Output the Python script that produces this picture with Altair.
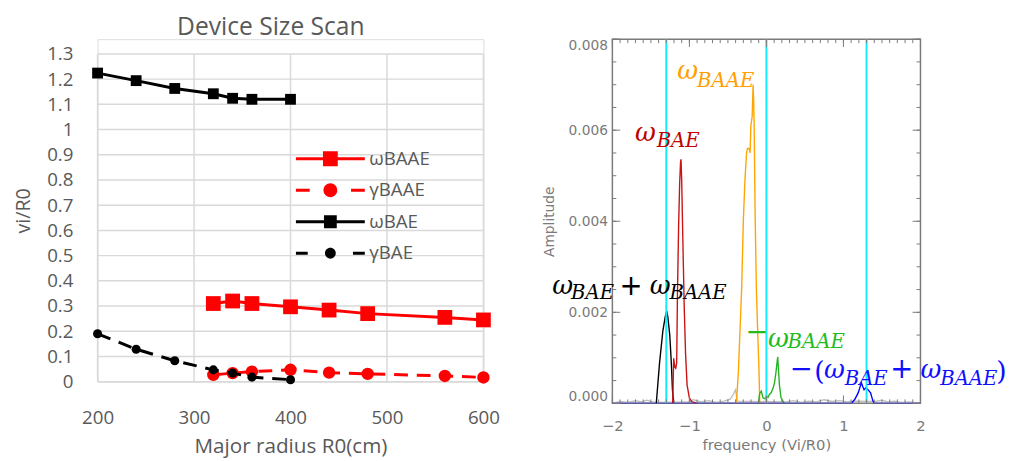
import altair as alt
import pandas as pd

# ================= left panel data (Device Size Scan) =================
series_names = ["ωBAAE", "γBAAE", "ωBAE", "γBAE"]
series_colors = ["#ff0000", "#ff0000", "#000000", "#000000"]
r0_baae = [320, 340, 360, 400, 440, 480, 560, 600]
omega_baae = [0.31, 0.32, 0.31, 0.297, 0.284, 0.27, 0.255, 0.245]
gamma_baae = [0.027, 0.034, 0.04, 0.047, 0.036, 0.031, 0.023, 0.017]
r0_bae = [200, 240, 280, 320, 340, 360, 400]
omega_bae = [1.224, 1.194, 1.163, 1.142, 1.124, 1.12, 1.12]
gamma_bae = [0.19, 0.129, 0.083, 0.047, 0.034, 0.018, 0.008]
left_x_ticks = [200, 300, 400, 500, 600]
left_y_ticks = [0.0, 0.1, 0.2, 0.3, 0.4, 0.5, 0.6, 0.7, 0.8, 0.9, 1.0, 1.1, 1.2, 1.3]

# ================= right panel data (spectrum) =================
gray_f = [-2.0, -1.9, -1.8, -1.7, -1.62, -1.55, -1.5, -1.45, -1.0, -0.95, -0.85, -0.75, -0.65,
          -0.55, -0.47, -0.43, -0.40, -0.38, 0.25, 0.35, 0.45, 0.55, 0.65, 0.75, 0.85, 0.95,
          1.05, 1.1, 1.42, 1.5, 1.58, 1.66, 1.75, 1.85, 2.0]
gray_a = [0.0, 0.00004, 0.00002, 0.00006, 0.00003, 0.00007, 0.00004, 0.00002, 0.00003, 0.00008,
          0.00003, 0.00006, 0.00002, 0.00005, 0.00009, 0.0002, 0.0003, 0.00005, 0.00003, 0.00006,
          0.00002, 0.00005, 0.00003, 0.00008, 0.00004, 0.00006, 0.00003, 0.00005, 0.00004,
          0.00007, 0.00003, 0.00005, 0.00002, 0.00003, 0.0]
black_f = [-1.43, -1.387, -1.344, -1.314, -1.295, -1.28, -1.255, -1.235, -1.22, -1.205]
black_a = [0.0, 0.0009, 0.0016, 0.0019, 0.00203, 0.0019, 0.0015, 0.0009, 0.0003, 0.0]
red_f = [-1.217, -1.204, -1.19, -1.178, -1.165, -1.155, -1.14, -1.127, -1.115, -1.109, -1.1,
         -1.09, -1.078, -1.067, -1.05, -1.03, -1.0, -0.97, -0.9]
red_a = [0.0, 0.00099, 0.0008, 0.00077, 0.00089, 0.0024, 0.0039, 0.0048, 0.0053, 0.00536, 0.0049,
         0.004, 0.003, 0.0021, 0.0011, 0.0004, 0.00012, 0.00004, 0.0]
orange_f = [-0.40, -0.386, -0.364, -0.343, -0.322, -0.300, -0.279, -0.258, -0.245, -0.225, -0.212,
            -0.202, -0.185, -0.173, -0.165, -0.160, -0.147, -0.130, -0.112, -0.096, -0.087]
orange_a = [0.0, 0.0001, 0.0007, 0.0016, 0.0025, 0.004, 0.0049, 0.0055, 0.0056, 0.0056, 0.0055,
            0.0061, 0.0063, 0.0070, 0.0066, 0.0062, 0.0042, 0.0025, 0.0015, 0.0007, 0.0]
green_f = [-0.105, -0.087, -0.066, -0.045, -0.02, 0.0, 0.02, 0.041, 0.061, 0.085, 0.105, 0.125,
           0.138, 0.147, 0.158, 0.169, 0.19, 0.232]
green_a = [0.0, 0.00022, 0.00027, 0.00012, 0.0001, 0.00016, 0.00013, 0.0002, 0.00023, 0.00033,
           0.00045, 0.0007, 0.0009, 0.00102, 0.0007, 0.0004, 0.00012, 0.0]
blue_f = [-2.0, 1.105, 1.148, 1.191, 1.212, 1.233, 1.25, 1.268, 1.289, 1.319, 1.352, 1.383, 1.40, 2.0]
blue_a = [0.0, 0.0, 0.00009, 0.00023, 0.00034, 0.00045, 0.00037, 0.0003, 0.00034, 0.0003,
          0.00023, 0.00005, 0.0, 0.0]
cyan_f = [-1.3, 0.0, 1.3]
right_x_ticks = [-2, -1, 0, 1, 2]
right_y_ticks = [0.0, 0.002, 0.004, 0.006, 0.008]

# annotation labels (math-like text)
om_f = [-1.157, -1.706, -2.780, -1.514, 0.019, 0.748, 2.0]
om_a = [0.00713, 0.00577, 0.0024, 0.0024, 0.00123, 0.00056, 0.00056]
om_color = ["#ffa000", "#c00000", "#000000", "#000000", "#22bb22", "#1010ff", "#1010ff"]
sub_text = ["BAAE", "BAE", "BAE", "BAAE", "BAAE", "BAE", "BAAE"]
sub_f = [-0.901, -1.425, -2.537, -1.259, 0.275, 1.016, 2.256]
sub_a = [0.00694, 0.00564, 0.00229, 0.00229, 0.00121, 0.0004, 0.0004]
op_text = ["+", "−", "−", "+"]
op_f = [-1.757, -0.121, 0.454, 1.757]
op_a = [0.00255, 0.00154, 0.000735, 0.000735]
op_color = ["#000000", "#22bb22", "#1010ff", "#1010ff"]
par_text = ["(", ")"]
par_f = [0.62, 2.984]
par_a = [0.00052, 0.00052]

# ================= left chart =================
GRAY = "#595959"
GRID = "#d9d9d9"
FONT_L = "Open Sans"
LW, LH = 392, 348
rows = []
for xs, vs, nm in [(r0_baae, omega_baae, "ωBAAE"), (r0_baae, gamma_baae, "γBAAE"),
                   (r0_bae, omega_bae, "ωBAE"), (r0_bae, gamma_bae, "γBAE")]:
    for x, v in zip(xs, vs):
        rows.append({"series": nm, "R0": x, "v": v})
df_left = pd.DataFrame(rows)

sc_xl = alt.Scale(domain=[left_x_ticks[0], left_x_ticks[-1]], nice=False, zero=False)
# plot area reaches a little above the top gridline (1.3) so both panels share one origin
sc_yl = alt.Scale(domain=[0, left_y_ticks[-1] * LH / 333], nice=False, zero=False)
ax_xl = alt.Axis(values=left_x_ticks, format="d", title="Major radius R0(cm)",
                 grid=False, ticks=False, domain=False, labelFlush=False,
                 labelFontSize=19, labelColor=GRAY, labelFont=FONT_L, labelPadding=27,
                 titleFontSize=21, titleColor=GRAY, titleFont=FONT_L,
                 titleFontWeight="normal", titlePadding=9)
ax_yl = alt.Axis(values=left_y_ticks, format="~g", title="vi/R0",
                 grid=False, ticks=False, domain=False, labelFlush=False,
                 labelFontSize=19, labelColor=GRAY, labelFont=FONT_L, labelPadding=25,
                 titleFontSize=20, titleColor=GRAY, titleFont=FONT_L,
                 titleFontWeight="normal", titlePadding=13)


def XL(field):
    return alt.X(f"{field}:Q", scale=sc_xl, axis=ax_xl)


def YL(field):
    return alt.Y(f"{field}:Q", scale=sc_yl, axis=ax_yl)


left_layers = []
# gridlines
df_gx = pd.DataFrame({"R0": left_x_ticks, "v": [left_y_ticks[0]] * len(left_x_ticks),
                      "v2": [left_y_ticks[-1]] * len(left_x_ticks)})
df_gy = pd.DataFrame({"v": left_y_ticks, "R0": [left_x_ticks[0]] * len(left_y_ticks),
                      "R02": [left_x_ticks[-1]] * len(left_y_ticks)})
left_layers.append(alt.Chart(df_gy).mark_rule(color=GRID, strokeWidth=1.5).encode(
    y=YL("v"), x=XL("R0"), x2="R02:Q"))
left_layers.append(alt.Chart(df_gx).mark_rule(color=GRID, strokeWidth=1.5).encode(
    x=XL("R0"), y=YL("v"), y2="v2:Q"))

base = alt.Chart(df_left)
marker_spec = {"ωBAAE": ("square", 225), "γBAAE": ("circle", 160),
               "ωBAE": ("square", 121), "γBAE": ("circle", 85)}
for nm, col in zip(series_names, series_colors):
    d = base.transform_filter(alt.datum.series == nm)
    if nm.startswith("γ"):
        ln = d.mark_line(strokeWidth=3, strokeDash=[14, 9], color=col)
    else:
        ln = d.mark_line(strokeWidth=3, color=col)
    left_layers.append(ln.encode(x=XL("R0"), y=YL("v")))
    shp, sz = marker_spec[nm]
    if shp == "square":
        mk = d.mark_square(size=sz, opacity=1, color=col)
    else:
        mk = d.mark_circle(size=sz, opacity=1, color=col)
    left_layers.append(mk.encode(x=XL("R0"), y=YL("v")))

legend_paths = [
    "M-7,-0.3H7V0.3H-7Z M-1.5,-1.5H1.5V1.5H-1.5Z",
    "M-7,-0.3H-4.2V0.3H-7Z M4.2,-0.3H7V0.3H4.2Z M-1.4,0A1.4,1.4 0 1,1 1.4,0A1.4,1.4 0 1,1 -1.4,0Z",
    "M-7,-0.3H7V0.3H-7Z M-1.3,-1.3H1.3V1.3H-1.3Z",
    "M-7,-0.3H-4.6V0.3H-7Z M4.6,-0.3H7V0.3H4.6Z M-1.1,0A1.1,1.1 0 1,1 1.1,0A1.1,1.1 0 1,1 -1.1,0Z",
]
leg = alt.Legend(orient="none", legendX=197, legendY=112, title=None, symbolSize=100,
                 symbolStrokeWidth=0, symbolOffset=30, labelOffset=30, labelFontSize=19,
                 labelFont=FONT_L, labelColor=GRAY, rowPadding=12, padding=0, symbolOpacity=1)
legend_layer = base.mark_point(filled=True, opacity=0).encode(
    x=XL("R0"), y=YL("v"),
    color=alt.Color("series:N", scale=alt.Scale(domain=series_names, range=series_colors), legend=leg),
    shape=alt.Shape("series:N", scale=alt.Scale(domain=series_names, range=legend_paths), legend=leg),
)
left_layers.append(legend_layer)

left = alt.layer(*left_layers).properties(
    width=LW, height=LH,
    title=alt.TitleParams("Device Size Scan", fontSize=25, color=GRAY, font=FONT_L,
                          fontWeight="normal", offset=-1, dx=-20),
)

# ================= right chart =================
RG = "#7a7a7a"
FONT_R = "DejaVu Sans"
W, H = 313, 370
x_r = alt.X("f:Q", scale=alt.Scale(domain=[-2, 2], nice=False, zero=False),
            axis=alt.Axis(values=right_x_ticks, format="d", title="frequency (Vi/R0)",
                          grid=False, ticks=False, domain=False, labelFlush=False,
                          labelFontSize=15, labelColor=RG,
                          labelFont=FONT_R, labelPadding=16, titleFontSize=15, titleColor=RG,
                          titleFont=FONT_R, titleFontWeight="normal", titlePadding=4))
y_r = alt.Y("a:Q", scale=alt.Scale(domain=[0, 0.008], nice=False, zero=False),
            axis=alt.Axis(values=right_y_ticks, format=".3f", title="Amplitude",
                          grid=False, ticks=False, domain=False, labelFontSize=14, labelColor=RG,
                          labelFont=FONT_R, labelPadding=5, labelFlush=True, titleFontSize=14,
                          titleColor=RG, titleFont=FONT_R, titleFontWeight="normal",
                          titlePadding=12))


def curve(fs, as_, col):
    df = pd.DataFrame({"f": fs, "a": as_})
    return alt.Chart(df).mark_line(color=col, strokeWidth=1.4, clip=True).encode(x=x_r, y=y_r)


right_layers = [
    curve(gray_f, gray_a, "#bdbdbd"),
    curve(black_f, black_a, "#000000"),
    curve(red_f, red_a, "#c81414"),
    curve(orange_f, orange_a, "#ffa500"),
    curve(green_f, green_a, "#22b422"),
    curve(blue_f, blue_a, "#0000ff"),
]
right_layers.append(
    alt.Chart(pd.DataFrame({"f": cyan_f})).mark_rule(color="#10ecff", strokeWidth=2).encode(x=x_r)
)

# inward IDL-style ticks (major + minor) on all four sides
y_major = right_y_ticks
y_minor = [i * 0.0005 for i in range(17)]
x_major = right_x_ticks
x_minor = [round(-2 + i * 0.1, 2) for i in range(41)]
for vals, ln in [(y_major, 8), (y_minor, 4)]:
    dfy = pd.DataFrame({"a": vals})
    right_layers.append(alt.Chart(dfy).mark_rule(color=RG, strokeWidth=1).encode(
        y=y_r, x=alt.value(0), x2=alt.value(ln)))
    right_layers.append(alt.Chart(dfy).mark_rule(color=RG, strokeWidth=1).encode(
        y=y_r, x=alt.value(W), x2=alt.value(W - ln)))
for vals, ln in [(x_major, 8), (x_minor, 4)]:
    dfx = pd.DataFrame({"f": vals})
    right_layers.append(alt.Chart(dfx).mark_rule(color=RG, strokeWidth=1).encode(
        x=x_r, y=alt.value(0), y2=alt.value(ln)))
    right_layers.append(alt.Chart(dfx).mark_rule(color=RG, strokeWidth=1).encode(
        x=x_r, y=alt.value(H), y2=alt.value(H - ln)))

# annotations
df_om = pd.DataFrame({"f": om_f, "a": om_a, "c": om_color, "t": ["ω"] * len(om_f)})
right_layers.append(alt.Chart(df_om).mark_text(
    font="DejaVu Serif", fontStyle="italic", fontSize=26, align="left", baseline="alphabetic"
).encode(x=x_r, y=y_r, text="t:N", color=alt.Color("c:N", scale=None)))
df_sub = pd.DataFrame({"f": sub_f, "a": sub_a, "c": om_color, "t": sub_text})
right_layers.append(alt.Chart(df_sub).mark_text(
    font="DejaVu Serif", fontStyle="italic", fontSize=20, align="left", baseline="alphabetic"
).encode(x=x_r, y=y_r, text="t:N", color=alt.Color("c:N", scale=None)))
df_op = pd.DataFrame({"f": op_f, "a": op_a, "c": op_color, "t": op_text})
right_layers.append(alt.Chart(df_op).mark_text(
    font="DejaVu Sans", fontSize=28, align="center", baseline="middle"
).encode(x=x_r, y=y_r, text="t:N", color=alt.Color("c:N", scale=None)))
df_par = pd.DataFrame({"f": par_f, "a": par_a, "t": par_text})
right_layers.append(alt.Chart(df_par).mark_text(
    font="DejaVu Serif", fontSize=27, align="left", baseline="alphabetic", color="#1010ff"
).encode(x=x_r, y=y_r, text="t:N"))

right = alt.layer(*right_layers).properties(
    width=W, height=H,
    view=alt.ViewBackground(stroke=RG, strokeWidth=1.5),
)

chart = alt.hconcat(left, right, spacing=39).properties(
    padding={"left": 5, "top": 3, "right": 5, "bottom": 5}
).configure_view(strokeWidth=0).configure(background="white")

chart.save("out.html", embed_options={"renderer": "svg", "actions": False})
